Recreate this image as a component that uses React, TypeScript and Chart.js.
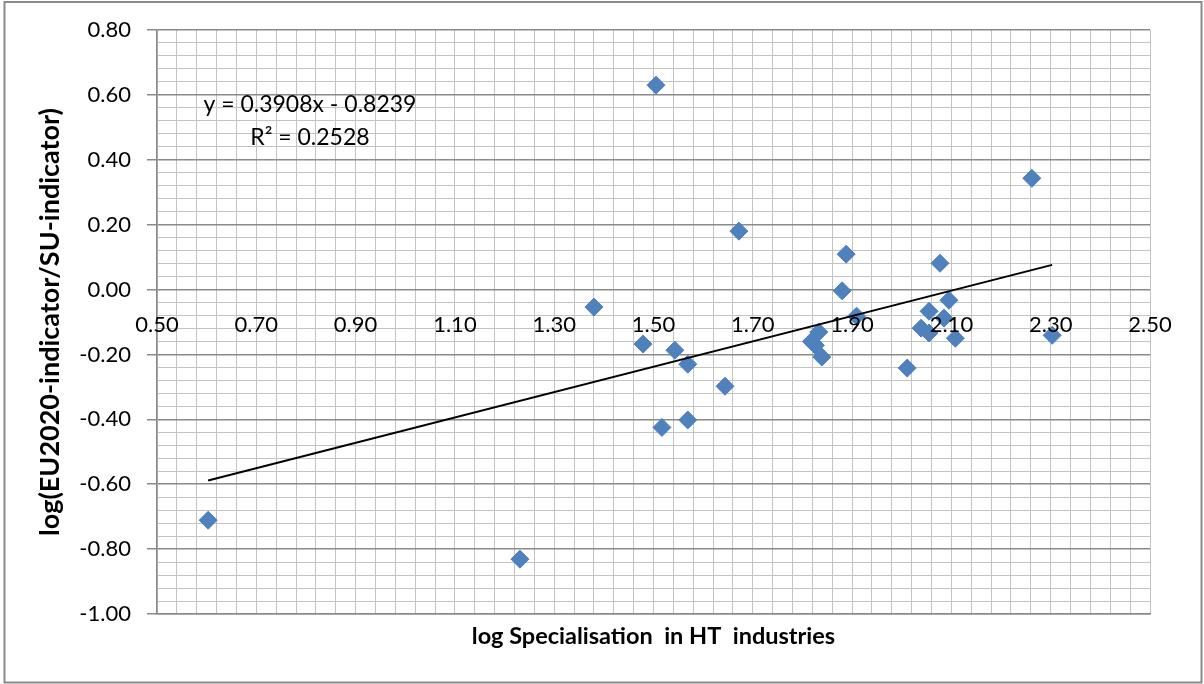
import { useEffect, useRef } from 'react';
import { Chart, registerables } from 'chart.js';

Chart.register(...registerables);

// ---- data ----
const xValues = [0.603, 1.231, 1.380, 1.505, 1.479, 1.543, 1.569, 1.517, 1.569, 1.644, 1.672, 1.888, 1.880, 1.909, 1.833, 1.818, 1.826, 1.839, 2.011, 2.077, 2.055, 2.039, 2.055, 2.095, 2.085, 2.108, 2.262, 2.303];
const yValues = [-0.711, -0.831, -0.054, 0.630, -0.168, -0.187, -0.230, -0.425, -0.402, -0.298, 0.180, 0.109, -0.004, -0.082, -0.131, -0.160, -0.172, -0.208, -0.242, 0.081, -0.067, -0.119, -0.134, -0.033, -0.088, -0.150, 0.343, -0.141];

const trendSlope = 0.3908;
const trendIntercept = -0.8239;
const equationText = 'y = 0.3908x - 0.8239';
const r2Text = 'R² = 0.2528';
const annotationX = 0.808;
const equationY = 0.571;
const r2Y = 0.469;

const xRange = [0.5, 2.5];
const yRange = [-1.0, 0.8];
const majorStep = 0.2;
const minorStep = 0.04;

const xTitle = 'log Specialisation  in HT  industries';
const yTitle = 'log(EU2020-indicator/SU-indicator)';

// ---- styles ----
const FONT = 'Lato, "Open Sans", "DejaVu Sans", sans-serif';
const MAJOR_C = '#8a8a8a';
const MINOR_C = '#c3c3c3';
const MARKER_C = '#4f81bd';
const FRAME_C = '#8a8a8a';

const isMajor = (v: number) => Math.abs(v / majorStep - Math.round(v / majorStep)) < 1e-6;
const fmt = (v: number) => (Math.abs(v) < 1e-9 ? '0.00' : Number(v).toFixed(2));

const framePlugin = {
  id: 'frame',
  beforeDraw(chart: any) {
    const ctx = chart.ctx;
    ctx.save();
    ctx.fillStyle = '#ffffff';
    ctx.fillRect(0, 0, chart.width, chart.height);
    ctx.strokeStyle = FRAME_C;
    ctx.lineWidth = 2;
    ctx.strokeRect(4.5, 2, chart.width - 7, chart.height - 3.5);
    ctx.restore();
  },
  afterDatasetsDraw(chart: any) {
    const ctx = chart.ctx;
    const xs = chart.scales.x;
    const ys = chart.scales.y;
    ctx.save();
    ctx.fillStyle = '#000';
    ctx.font = `23px ${FONT}`;
    ctx.textAlign = 'center';
    ctx.textBaseline = 'middle';
    ctx.fillText(equationText, xs.getPixelForValue(annotationX), ys.getPixelForValue(equationY));
    ctx.fillText(r2Text, xs.getPixelForValue(annotationX), ys.getPixelForValue(r2Y));
    ctx.restore();
  },
};

export default function App() {
  const canvasRef = useRef<HTMLCanvasElement | null>(null);

  useEffect(() => {
    document.body.style.margin = '0';
    const canvas = canvasRef.current;
    if (!canvas) return;

    const points = xValues.map((x, i) => ({ x, y: yValues[i] }));
    const minX = Math.min(...xValues);
    const maxX = Math.max(...xValues);
    const trend = [
      { x: minX, y: trendSlope * minX + trendIntercept },
      { x: maxX, y: trendSlope * maxX + trendIntercept },
    ];

    const chart = new Chart(canvas, {
      type: 'scatter',
      data: {
        datasets: [
          {
            label: 'Linear trend',
            data: trend,
            xAxisID: 'x',
            yAxisID: 'y',
            showLine: true,
            borderColor: '#000000',
            borderWidth: 2,
            pointRadius: 0,
            fill: false,
          },
          {
            label: 'Countries',
            data: points,
            xAxisID: 'x',
            yAxisID: 'y',
            pointStyle: 'rectRot',
            pointRadius: 9,
            backgroundColor: MARKER_C,
            borderColor: MARKER_C,
            borderWidth: 1,
          },
        ],
      },
      options: {
        responsive: false,
        animation: false,
        devicePixelRatio: 1,
        layout: { padding: { left: 0, top: 30, right: 54, bottom: 0 } },
        plugins: { legend: { display: false }, tooltip: { enabled: false } },
        scales: {
          x: {
            type: 'linear',
            position: 'bottom',
            min: xRange[0],
            max: xRange[1],
            ticks: { stepSize: minorStep, display: false, autoSkip: false },
            grid: {
              color: (c: any) => (isMajor(c.tick.value) ? MAJOR_C : MINOR_C),
              lineWidth: (c: any) => (isMajor(c.tick.value) ? 1.5 : 1),
              drawTicks: false,
            },
            border: { display: true, color: MAJOR_C, width: 1.5 },
            title: {
              display: true,
              text: xTitle,
              color: '#000',
              font: { family: FONT, size: 23.5, weight: 'bold' },
              padding: { top: 0, bottom: 33 },
            },
            afterFit: (s: any) => {
              s.height = 70;
            },
          },
          xl: {
            type: 'linear',
            axis: 'x',
            position: { y: 0 },
            min: xRange[0],
            max: xRange[1],
            ticks: {
              stepSize: majorStep,
              autoSkip: false,
              maxRotation: 0,
              padding: 22,
              color: '#000',
              font: { family: FONT, size: 22 },
              callback: (v: any) => fmt(Number(v)),
              z: 1,
            },
            grid: { display: false, drawTicks: false },
            border: { display: false },
          },
          y: {
            type: 'linear',
            position: 'left',
            min: yRange[0],
            max: yRange[1],
            ticks: {
              stepSize: minorStep,
              autoSkip: false,
              padding: 16,
              color: '#000',
              font: { family: FONT, size: 22 },
              callback: (v: any) => (isMajor(Number(v)) ? fmt(Number(v)) : ''),
            },
            grid: {
              color: (c: any) => (isMajor(c.tick.value) ? MAJOR_C : MINOR_C),
              lineWidth: (c: any) => (isMajor(c.tick.value) ? 1.5 : 1),
              drawTicks: true,
              tickLength: 10,
              tickColor: (c: any) => (isMajor(c.tick.value) ? MAJOR_C : 'rgba(0,0,0,0)'),
              tickWidth: 1.5,
            },
            border: { display: true, color: MAJOR_C, width: 1.5 },
            title: {
              display: true,
              text: yTitle,
              color: '#000',
              font: { family: FONT, size: 27, weight: 'bold' },
              padding: { top: 34, bottom: 0 },
            },
            afterFit: (s: any) => {
              s.width = 157;
            },
          },
        },
      },
      plugins: [framePlugin],
    } as any);

    return () => {
      chart.destroy();
    };
  }, []);

  return (
    <div style={{ width: 1204, height: 684 }}>
      <canvas ref={canvasRef} width={1204} height={684} style={{ display: 'block' }} />
    </div>
  );
}
